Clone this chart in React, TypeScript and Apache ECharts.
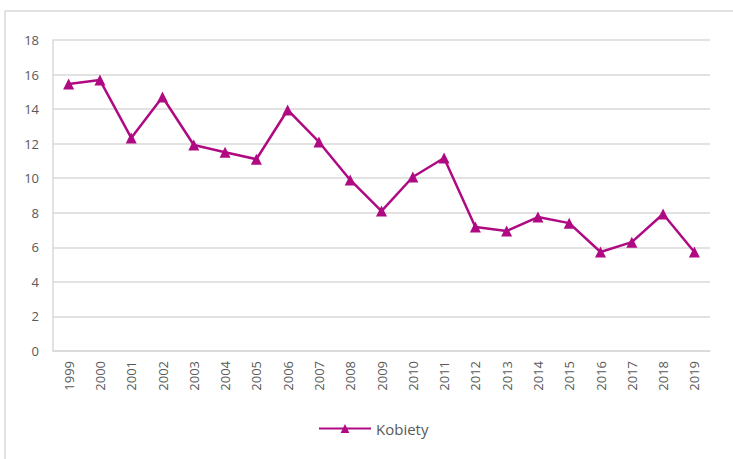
import React, { useEffect, useRef } from "react";
import * as echarts from "echarts";

const years = ["1999","2000","2001","2002","2003","2004","2005","2006","2007","2008","2009","2010","2011","2012","2013","2014","2015","2016","2017","2018","2019"];
const kobiety = [15.45, 15.68, 12.33, 14.7, 11.92, 11.5, 11.1, 13.95, 12.1, 9.9, 8.1, 10.07, 11.17, 7.18, 6.94, 7.75, 7.4, 5.73, 6.3, 7.93, 5.73];
const seriesName = "Kobiety";

export default function App() {
  const ref = useRef<HTMLDivElement>(null);
  useEffect(() => {
    document.body.style.margin = "0";
    const chart = echarts.init(ref.current!, null, { renderer: "svg" });
    const font = "'Open Sans', 'Liberation Sans', sans-serif";
    chart.setOption({
      animation: false,
      backgroundColor: "#ffffff",
      textStyle: { fontFamily: font },
      graphic: [
        {
          type: "rect",
          shape: { x: 5, y: 11, width: 800, height: 500 },
          style: { fill: "none", stroke: "#d9d9d9", lineWidth: 1.5 },
          silent: true,
        },
      ],
      grid: { left: 53, top: 40, right: 23, bottom: 108, containLabel: false },
      xAxis: {
        type: "category",
        data: years,
        boundaryGap: true,
        axisLine: { show: true, lineStyle: { color: "#d9d9d9", width: 1.5 } },
        axisTick: { show: false },
        axisLabel: { rotate: 90, color: "#595959", fontSize: 13, margin: 10, fontFamily: font },
      },
      yAxis: {
        type: "value",
        min: 0,
        max: 18,
        interval: 2,
        axisLine: { show: true, lineStyle: { color: "#d9d9d9", width: 1.5 } },
        axisTick: { show: false },
        splitLine: { lineStyle: { color: "#d9d9d9", width: 1.5 } },
        axisLabel: { color: "#595959", fontSize: 13, margin: 14, fontFamily: font },
      },
      legend: {
        data: [seriesName],
        bottom: 18,
        left: 313,
        itemWidth: 52,
        itemHeight: 11,
        itemGap: 8,
        textStyle: { color: "#595959", fontSize: 15, fontFamily: font },
      },
      series: [
        {
          name: seriesName,
          type: "line",
          data: kobiety,
          symbol: "triangle",
          symbolSize: 11,
          lineStyle: { color: "#b00a83", width: 2.5 },
          itemStyle: { color: "#b00a83" },
        },
      ],
    });
    return () => chart.dispose();
  }, []);
  return <div ref={ref} style={{ width: 733, height: 459 }} />;
}
